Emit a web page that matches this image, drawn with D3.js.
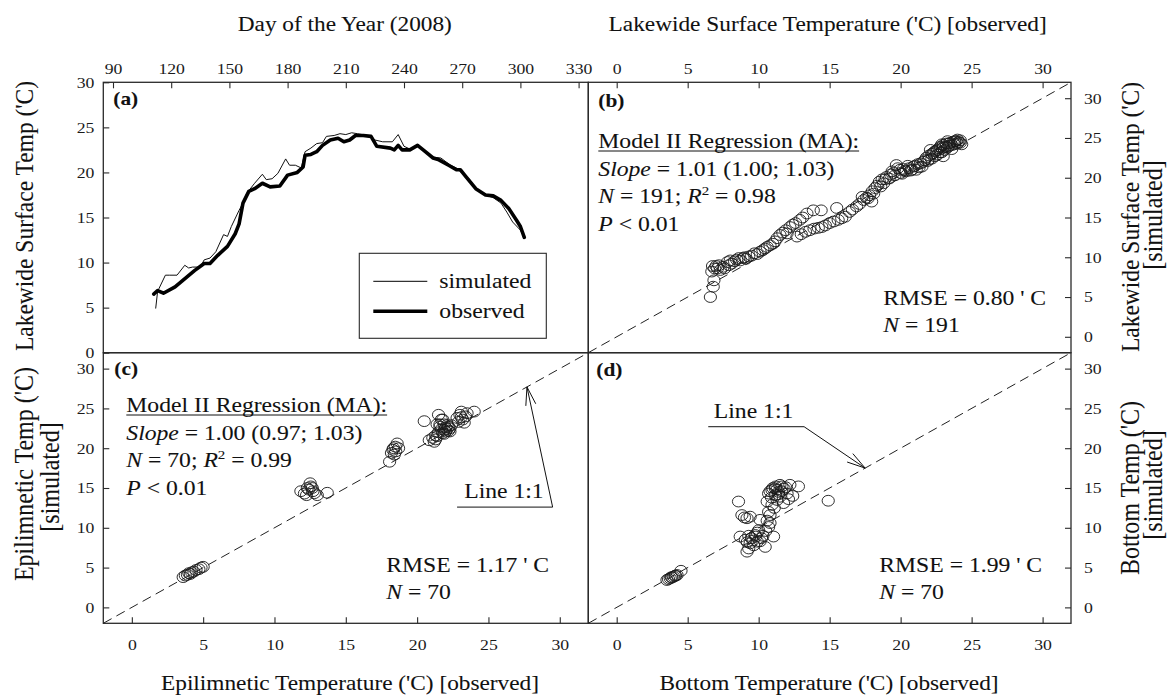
<!DOCTYPE html>
<html><head><meta charset="utf-8">
<script src="https://cdn.jsdelivr.net/npm/d3@7"></script>
<style>body{margin:0;background:#fff}</style>
</head><body>
<svg id="c" width="1171" height="696"></svg>
<script>
// ---------------- DATA ----------------
// (a) Time series, day of year 2008 vs lakewide surface temperature (°C)
const obsDays = [111,113,116,122,132,137,140,144,149,153,155,157,160,163,167,171,176,180,185,188,189,192,195,198,202,206,209,212,215,219,223,226,233,235,237,239,243,247,251,255,258,263,267,269,272,277,282,286,290,294,298,300,302];
const obsTemp = [6.5,6.9,6.6,7.3,9.1,9.9,9.9,10.8,11.8,13.2,14.3,16.6,17.9,18.2,18.8,18.4,18.5,19.7,20.0,20.6,21.9,22.0,22.3,23.0,23.6,23.8,23.4,23.6,24.1,24.1,24.0,22.9,22.7,22.5,23.0,22.5,22.5,23.0,22.3,21.6,21.4,20.8,20.3,20.3,19.5,18.2,17.5,17.4,16.9,16.0,14.7,14.0,12.8];
const simDays = [112,113,117,119,123,127,129,131,135,137,140,143,147,149,151,155,157,159,163,167,169,172,175,179,181,184,187,189,192,195,198,200,204,207,210,213,216,221,225,229,234,237,240,243,247,251,255,259,264,267,270,274,277,282,286,290,293,296,300,302];
const simTemp = [4.9,6.8,8.6,8.6,8.6,9.7,9.4,9.5,9.5,10.3,10.5,11.2,13.1,12.9,14.0,15.8,16.6,17.7,18.8,19.8,19.2,19.3,19.9,21.5,20.8,20.8,20.5,22.3,22.7,23.2,23.3,24.0,24.1,24.3,24.2,24.4,24.3,24.1,23.6,23.4,23.4,24.2,22.9,22.6,23.0,22.3,21.7,21.6,20.8,20.5,19.9,19.2,18.2,17.5,17.2,16.6,15.6,14.5,13.6,12.8];
const dayTicks = [90,120,150,180,210,240,270,300,330];
const tempTicksA = [0,5,10,15,20,25,30];
const scatterTicks = [0,5,10,15,20,25,30];

// (b) Lakewide surface temperature [observed, simulated]
const panelB = [[6.6,5.0],[6.8,6.3],[6.85,7.1],[6.7,8.2],[6.9,8.6],[7.0,8.9],[7.3,8.4],[7.5,8.8],[7.6,8.6],[7.9,9.0],[8.1,9.2],[8.3,9.5],[8.45,9.7],[8.7,9.6],[8.9,9.9],[9.1,9.8],[9.3,10.1],[9.5,10.2],[9.7,10.5],[9.9,10.4],[10.1,10.7],[10.3,10.9],[10.45,11.1],[10.6,11.3],[10.8,11.5],[11.0,11.7],[11.15,12.0],[11.3,12.4],[11.5,12.8],[11.7,13.1],[11.9,13.4],[12.0,13.0],[12.2,13.8],[12.4,14.1],[12.6,14.3],[12.9,14.7],[13.1,15.0],[13.4,15.5],[13.85,15.9],[14.4,15.9],[15.5,16.2],
[6.75,8.9],[7.1,8.6],[7.2,9.0],[7.8,9.4],[8.0,9.6],[8.6,9.9],[9.0,10.0],
[12.7,12.6],[13.0,12.9],[13.3,13.2],[13.6,13.4],[13.9,13.6],[14.2,13.7],[14.45,13.8],[14.7,14.0],[15.0,14.3],[15.3,14.5],[15.6,14.7],[15.85,14.9],[16.1,15.1],[16.4,15.7],[16.6,16.0],[16.9,16.4],[17.1,16.7],[17.4,17.2],[17.6,17.5],[17.8,17.8],[17.96,17.0],[18.0,18.3],[18.2,18.7],[18.35,19.0],[18.5,19.5],[18.7,19.8],[18.8,19.3],[19.0,20.1],[19.2,19.9],[19.3,20.4],[19.5,20.6],[19.7,21.6],[19.8,21.2],[19.95,21.0],[20.1,20.5],[20.2,21.1],[20.4,20.8],[20.6,21.2],[20.7,20.9],[20.9,21.4],[21.1,21.0],[21.2,21.7],[21.4,21.8],[21.5,21.4],[21.6,22.0],[21.8,22.5],[21.9,22.1],[22.0,22.8],[22.1,23.5],[22.2,22.4],[22.3,23.1],[22.4,22.7],[22.5,23.4],[22.6,22.9],[22.7,23.7],[22.8,23.9],[22.9,23.2],[23.0,22.7],[23.0,24.1],[23.1,23.5],[23.2,24.3],[23.3,23.8],[23.4,24.0],[23.5,24.4],[23.6,23.6],[23.7,24.5],[23.8,24.2],[23.9,24.6],[24.0,24.3],[24.1,24.5],[24.2,24.4],[24.3,24.2],
[19.6,20.3],[20.0,20.6],[20.3,20.9],[20.5,21.5],[20.8,21.0],[21.0,21.5],[21.3,21.3],[21.7,22.2],[22.0,22.3],[22.2,23.0],[22.4,23.3],[22.6,23.5],[22.8,23.2],[23.0,23.8],[23.2,23.9],[23.4,24.3],[23.6,24.1],[23.8,24.6],[24.0,24.8],[24.2,24.7],[23.3,24.6],[22.9,24.2],[18.9,19.8],[18.6,18.9],[18.1,18.0],[17.7,17.4],[17.3,17.6],[19.4,20.8]];

// (c) Epilimnetic temperature [observed, simulated]
const panelC = [[3.6,3.8],[3.75,4.0],[3.9,4.1],[4.0,4.3],[4.2,4.4],[4.35,4.5],[4.5,4.7],[4.7,4.8],[4.85,5.0],[5.0,5.1],[4.1,4.2],
[11.85,14.6],[12.1,14.3],[12.25,14.1],[12.4,14.8],[12.5,15.6],[12.55,15.2],[12.65,15.0],[12.8,14.35],[13.0,14.1],[12.7,14.6],[13.7,14.4],[12.3,15.0],
[18.07,18.3],[18.2,19.4],[18.3,19.8],[18.4,19.2],[18.47,20.2],[18.6,20.6],[18.7,20.0],[18.35,20.0],[18.5,19.6],
[20.5,23.4],[20.85,21.0],[21.1,21.3],[21.2,20.8],[21.4,21.5],[21.3,21.1],[21.5,24.2],[21.6,22.7],[21.7,23.6],[21.8,21.9],[21.8,23.6],[21.9,22.3],[22.0,22.1],[22.0,22.6],[22.1,22.9],[22.2,22.7],[22.3,22.5],[22.4,22.9],[21.6,23.0],[21.9,23.0],[21.5,22.0],[21.7,22.4],[22.2,22.2],[22.1,22.4],[21.4,23.0],
[22.8,23.8],[23.0,24.2],[23.1,24.6],[23.2,23.6],[23.4,24.0],[23.5,24.4],[24.0,24.6],[22.9,23.3],[23.3,23.2],[21.3,21.6],[22.3,22.1],[21.9,21.8],[23.1,23.9]];

// (d) Bottom temperature [observed, simulated]
const panelD = [[3.54,3.44],[3.65,3.55],[3.77,3.65],[3.9,3.75],[4.0,3.86],[4.1,3.95],[4.25,4.07],[4.53,4.6],[3.85,3.8],[4.15,4.0],
[8.58,13.3],[8.82,11.6],[9.0,11.3],[9.18,11.2],[9.4,11.4],[8.7,8.9],[9.06,8.5],[9.3,7.4],[9.18,7.0],[9.5,8.7],[9.76,9.1],[10.0,9.7],[9.9,8.25],[10.2,8.7],[10.46,7.6],[10.1,11.0],[10.7,10.1],[11.05,8.9],[10.8,10.6],[9.4,8.05],[9.6,8.4],[9.8,8.9],[9.3,9.0],[10.3,9.0],[9.65,7.8],[10.1,8.3],[9.9,9.4],[10.5,9.6],[9.2,8.2],[10.6,10.9],
[10.7,14.3],[10.94,14.75],[11.17,14.96],[11.4,14.5],[11.64,15.2],[12.0,14.3],[12.2,15.4],[12.8,15.2],[10.6,13.3],[10.94,12.9],[10.7,12.0],[11.3,13.5],[11.75,13.1],[11.17,14.1],[11.5,13.9],[12.4,14.0],[10.8,11.6],[11.0,15.0],[11.3,14.8],[11.6,14.6],[11.2,15.2],[10.9,13.8],[11.4,14.2],[11.8,14.9],[12.1,13.6],[11.1,12.5],[10.8,14.6],[11.9,15.1],[11.5,15.4],
[14.9,13.4]];

const legendLabels = ["simulated","observed"];

// ---------------- LAYOUT ----------------
const svg = d3.select('#c');
const FONT = '"Liberation Serif","Times New Roman",Times,serif';
const INK = '#2a2a2a';
const L=103.3, M=588.3, R=1071, T=82.3, MID=352.7, B=623.3;
const TSX=1.18, ASX=1.155, HSX=1.11, VSX=1.1;
const TXT_STROKE = 0.08;

const xA = d3.scaleLinear().domain([85,335]).range([L,M]);
const yA = d3.scaleLinear().domain([0,30]).range([MID,T]);
const xB = d3.scaleLinear().domain([-2,32]).range([M,R]);
const yB = d3.scaleLinear().domain([-2,32]).range([MID,T]);
const xC = d3.scaleLinear().domain([-2,32]).range([L,M]);
const yC = d3.scaleLinear().domain([-2,32]).range([B,MID]);
const xD = xB;
const yD = yC;

function axis(gen, tx, ty, vals, pad){
  const g = svg.append('g').attr('transform',`translate(${tx},${ty})`)
    .call(gen.tickValues(vals).tickSizeInner(-6).tickSizeOuter(0).tickPadding(pad));
  g.select('.domain').remove();
  g.selectAll('.tick line').attr('stroke',INK).attr('stroke-width',1.1);
  g.selectAll('.tick text').attr('font-family',FONT).attr('font-size',15).attr('fill','#1a1a1a')
    .each(function(){ const t=d3.select(this); const x=+(t.attr('x')||0); t.attr('x', x/TSX).attr('transform',`scale(${TSX},1)`); });
  return g;
}

function htext(x,y,opts={}){
  const t = svg.append('text').attr('transform',`translate(${x},${y}) scale(${opts.sx||ASX},1)`)
    .attr('font-family',FONT).attr('font-size',opts.size||20.5)
    .attr('text-anchor',opts.anchor||'start').attr('fill','#111')
    .attr('stroke','#111').attr('stroke-width',TXT_STROKE);
  if(opts.weight) t.attr('font-weight',opts.weight);
  if(opts.text!==undefined) t.text(opts.text);
  return t;
}
function parts(t, arr){
  arr.forEach(p=>{
    const s=t.append('tspan').text(p.t);
    if(p.i) s.attr('font-style','italic');
    if(p.sup) s.attr('font-size',13).attr('dy',-8);
    if(p.dy) s.attr('dy',p.dy);
  });
  return t;
}
function vtext(x,y,str,size){
  svg.append('text').attr('transform',`translate(${x},${y}) rotate(-90) scale(1,${VSX})`)
    .attr('font-family',FONT).attr('font-size',size||23).attr('text-anchor','middle').attr('fill','#111')
    .attr('stroke','#111').attr('stroke-width',TXT_STROKE).text(str);
}

// frames
[[L,T,M,MID],[M,T,R,MID],[L,MID,M,B],[M,MID,R,B]].forEach(([x0,y0,x1,y1])=>{
  svg.append('rect').attr('x',x0).attr('y',y0).attr('width',x1-x0).attr('height',y1-y0)
    .attr('fill','none').attr('stroke',INK).attr('stroke-width',1.3);
});

// axes
axis(d3.axisTop(xA), 0, T, dayTicks, 8.5);
axis(d3.axisLeft(yA), L, 0, tempTicksA, 9);
axis(d3.axisTop(xB), 0, T, scatterTicks, 8.5);
axis(d3.axisRight(yB), R, 0, scatterTicks, 13);
axis(d3.axisBottom(xC), 0, B, scatterTicks, 16);
axis(d3.axisLeft(yC), L, 0, scatterTicks, 9);
axis(d3.axisBottom(xD), 0, B, scatterTicks, 16);
axis(d3.axisRight(yD), R, 0, scatterTicks, 13);

// ---------- panel (a) ----------
const simSeries = simDays.map((d,i)=>[d,simTemp[i]]);
const obsSeries = obsDays.map((d,i)=>[d,obsTemp[i]]);
const lineA = d3.line().x(d=>xA(d[0])).y(d=>yA(d[1]));
svg.append('path').attr('d',lineA(simSeries)).attr('fill','none').attr('stroke','#111').attr('stroke-width',1).attr('stroke-linejoin','round');
svg.append('path').attr('d',lineA(obsSeries)).attr('fill','none').attr('stroke','#000').attr('stroke-width',3.6).attr('stroke-linejoin','round').attr('stroke-linecap','round');

// legend
const lgX = L+256, lgY = T+171, lgW = 187, lgH = 85;
svg.append('rect').attr('x',lgX).attr('y',lgY).attr('width',lgW).attr('height',lgH).attr('fill','#fff').attr('stroke',INK).attr('stroke-width',1.1);
legendLabels.forEach((lab,i)=>{
  const yy = lgY+28+i*30;
  svg.append('line').attr('x1',lgX+14).attr('x2',lgX+68).attr('y1',yy).attr('y2',yy)
    .attr('stroke','#000').attr('stroke-width', i===0?1:3.6);
  htext(lgX+80, yy+7, {text:lab});
});
htext(L+10, T+23, {text:'(a)', weight:'bold', size:18.5});

// ---------- scatter panels ----------
function scatter(data, xs, ys){
  svg.append('line').attr('x1',xs(-2)).attr('y1',ys(-2)).attr('x2',xs(32)).attr('y2',ys(32))
    .attr('stroke','#222').attr('stroke-width',1).attr('stroke-dasharray','9.5,5.5');
  svg.append('g').selectAll('ellipse').data(data).join('ellipse')
    .attr('cx',d=>xs(d[0])).attr('cy',d=>ys(d[1])).attr('rx',6.1).attr('ry',5.4)
    .attr('fill','none').attr('stroke','#1a1a1a').attr('stroke-width',0.9);
}
scatter(panelB, xB, yB);
scatter(panelC, xC, yC);
scatter(panelD, xD, yD);

function regressionBlock(x, y0, slope, n, r2){
  const lh = 27.5;
  const t1 = htext(x, y0, {text:'Model II Regression (MA):'});
  const w = t1.node().getComputedTextLength()*ASX;
  svg.append('line').attr('x1',x).attr('x2',x+w).attr('y1',y0+3).attr('y2',y0+3).attr('stroke','#111').attr('stroke-width',1);
  parts(htext(x, y0+lh), [{t:'Slope',i:1},{t:' = '+slope}]);
  parts(htext(x, y0+2*lh), [{t:'N',i:1},{t:' = '+n+'; '},{t:'R',i:1},{t:'2',sup:1},{t:' = '+r2,dy:8}]);
  parts(htext(x, y0+3*lh), [{t:'P',i:1},{t:' < 0.01'}]);
}
function rmseBlock(x, y0, rmse, n){
  htext(x, y0, {text:'RMSE = '+rmse+" ' C"});
  parts(htext(x, y0+26.5), [{t:'N',i:1},{t:' = '+n}]);
}
function lineLabel(xs, ys, tx, ty, u0, u1, uy, tip){
  htext(xs(tx), ys(ty), {text:'Line 1:1'});
  const ax = xs(u1), ay = ys(uy);
  svg.append('line').attr('x1',xs(u0)).attr('x2',ax).attr('y1',ay).attr('y2',ay).attr('stroke','#111').attr('stroke-width',1);
  const px = xs(tip), py = ys(tip);
  svg.append('line').attr('x1',ax).attr('y1',ay).attr('x2',px).attr('y2',py).attr('stroke','#111').attr('stroke-width',1);
  const ang = Math.atan2(ay-py, ax-px), len=19, spread=0.27;
  [ang-spread, ang+spread].forEach(a=>{
    svg.append('line').attr('x1',px).attr('y1',py).attr('x2',px+len*Math.cos(a)).attr('y2',py+len*Math.sin(a))
      .attr('stroke','#111').attr('stroke-width',1);
  });
}

// (b)
htext(M+10, T+25, {text:'(b)', weight:'bold', size:18.5});
regressionBlock(M+10, T+65.7, '1.01 (1.00; 1.03)', 191, '0.98');
rmseBlock(M+295, T+222.7, '0.80', 191);

// (c)
htext(L+11, MID+22, {text:'(c)', weight:'bold', size:18.5});
regressionBlock(L+23, MID+59.3, '1.00 (0.97; 1.03)', 70, '0.99');
rmseBlock(L+283, MID+219.3, '1.17', 70);
lineLabel(xC, yC, 23.3, 13.74, 22.8, 29.5, 12.6, 27.7);

// (d)
htext(M+8, MID+23, {text:'(d)', weight:'bold', size:18.5});
rmseBlock(M+291, MID+219.3, '1.99', 70);
lineLabel(xD, yD, 6.84, 23.8, 6.45, 13.2, 22.7, 17.5);

// ---------- axis titles ----------
htext((L+M)/2-1, 31, {text:'Day of the Year (2008)', anchor:'middle', size:21, sx:HSX});
htext((M+R)/2-2, 31, {text:"Lakewide Surface Temperature ('C) [observed]", anchor:'middle', size:21, sx:HSX});
htext(350, 690, {text:"Epilimnetic Temperature ('C) [observed]", anchor:'middle', size:21, sx:HSX});
htext(829, 690, {text:"Bottom Temperature ('C) [observed]", anchor:'middle', size:21, sx:HSX});

vtext(33, 216, "Lakewide Surface Temp ('C)", 23.5);
vtext(33, 474, "Epilimnetic Temp ('C)", 24);
vtext(59, 477, "[simulated]", 24);
vtext(1139, 217, "Lakewide Surface Temp ('C)", 23.5);
vtext(1162, 215, "[simulated]", 24);
vtext(1139, 488, "Bottom Temp ('C)", 24);
vtext(1162, 485, "[simulated]", 24);
</script>
</body></html>
